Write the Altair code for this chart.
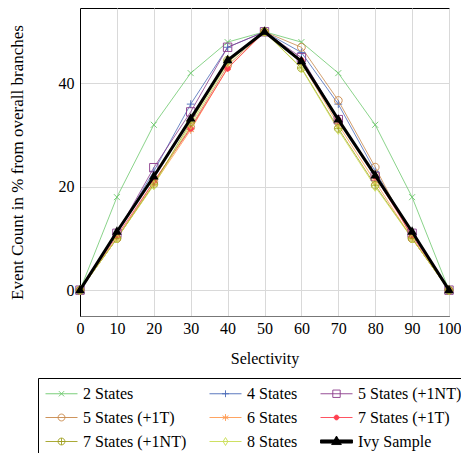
import altair as alt
import pandas as pd

selectivity = [0, 10, 20, 30, 40, 50, 60, 70, 80, 90, 100]
series_names = ["2 States", "4 States", "5 States (+1NT)", "5 States (+1T)", "6 States",
                "7 States (+1T)", "7 States (+1NT)", "8 States", "Ivy Sample"]
s2 = [0, 18, 32, 42, 48, 50, 48, 42, 32, 18, 0]
s4 = [0, 11, 23, 36, 47, 50, 46, 36, 23, 11, 0]
s5nt = [0, 11, 23.7, 34.5, 47, 50, 45, 33, 22, 11, 0]
s5t = [0, 10, 21, 31.5, 43.5, 50, 47, 36.7, 23.8, 10, 0]
s6 = [0, 10, 20.5, 31, 43, 50, 44, 32, 21, 10, 0]
s7t = [0, 10.5, 21, 31.3, 42.9, 50, 44.5, 33, 22, 10.5, 0]
s7nt = [0, 10, 20.5, 32.5, 44.5, 50, 43, 31.3, 20.3, 10, 0]
s8 = [0, 10, 20.3, 32, 44, 50, 42.9, 31, 20, 10, 0]
ivy = [0, 11.3, 22, 33.2, 44.5, 50, 44.3, 33, 22.2, 11.3, 0]
values = [s2, s4, s5nt, s5t, s6, s7t, s7nt, s8, ivy]

colors = ["#6cc86c", "#4a6ab8", "#8a3a8a", "#c8884a", "#ff9a50",
          "#ff4050", "#a0a020", "#c8dc50", "#000000"]
fills = ["transparent", "transparent", "transparent", "transparent", "transparent",
         "#ff4050", "transparent", "transparent", "#000000"]

rows = []
for name, vals in zip(series_names, values):
    for xv, yv in zip(selectivity, vals):
        rows.append({"series": name, "x": xv, "y": yv})
df = pd.DataFrame(rows)


def f(v):
    return f"{v:.3f}"


def circ(r, s, dx):
    R = r * s
    return f"M{f(dx+R)},0A{f(R)},{f(R)} 0 1,1 {f(dx-R)},0A{f(R)},{f(R)} 0 1,1 {f(dx+R)},0Z"


def marker(kind, s, dx):
    if kind == "x":
        return f"M{f(dx-s)},{f(-s)}L{f(dx+s)},{f(s)}M{f(dx-s)},{f(s)}L{f(dx+s)},{f(-s)}"
    if kind == "plus":
        a = 1.3 * s
        return f"M{f(dx-a)},0H{f(dx+a)}M{f(dx)},{f(-a)}V{f(a)}"
    if kind == "square":
        a = 1.4 * s
        return f"M{f(dx-a)},{f(-a)}H{f(dx+a)}V{f(a)}H{f(dx-a)}Z"
    if kind == "circle":
        return circ(1.3, s, dx)
    if kind == "asterisk":
        a = 1.3 * s
        bx, by = 0.866 * a, 0.5 * a
        return (f"M{f(dx)},{f(-a)}V{f(a)}M{f(dx-bx)},{f(-by)}L{f(dx+bx)},{f(by)}"
                f"M{f(dx-bx)},{f(by)}L{f(dx+bx)},{f(-by)}")
    if kind == "dot":
        return circ(0.9, s, dx)
    if kind == "oplus":
        a = 1.3 * s
        return circ(1.3, s, dx) + f"M{f(dx-a)},0H{f(dx+a)}M{f(dx)},{f(-a)}V{f(a)}"
    if kind == "diamond":
        h, w = 1.5 * s, 0.9 * s
        return f"M{f(dx)},{f(-h)}L{f(dx+w)},0L{f(dx)},{f(h)}L{f(dx-w)},0Z"
    if kind == "triangle":
        return f"M{f(dx)},{f(-1.8*s)}L{f(dx+1.6*s)},{f(1.0*s)}L{f(dx-1.6*s)},{f(1.0*s)}Z"


kinds = ["x", "plus", "square", "circle", "asterisk", "dot", "oplus", "diamond", "triangle"]
plot_shapes = [marker(k, 1.0, 0.0) for k in kinds]
legend_shapes = []
for k in kinds:
    if k == "triangle":
        legend_shapes.append("M-1,-0.2H3V0.2H-1Z" + marker(k, 0.38, 1.0))
    else:
        legend_shapes.append("M-1,0H3" + marker(k, 0.33, 1.0))

# legend fills column by column; reorder so rows read like the original
legend_order = [0, 3, 6, 1, 4, 7, 2, 5, 8]
leg_domain = [series_names[i] for i in legend_order]
leg_colors = [colors[i] for i in legend_order]
leg_fills = [fills[i] for i in legend_order]
leg_shapes = [legend_shapes[i] for i in legend_order]

FONT = "Liberation Serif"

xenc = alt.X("x:Q", scale=alt.Scale(domain=[0, 100], nice=False, zero=False),
             axis=alt.Axis(values=selectivity, title="Selectivity", grid=True,
                           ticks=False, tickSize=0, labelPadding=4, titlePadding=14,
                           labelOverlap=False, labelFlush=False,
                           domainColor="#777777"))
yenc = alt.Y("y:Q", scale=alt.Scale(domain=[-5, 54.6], nice=False, zero=False),
             axis=alt.Axis(values=[0, 20, 40], title="Event Count in % from overall branches",
                           grid=True, ticks=False, tickSize=0, labelPadding=6,
                           titlePadding=32, titleFontSize=17, domainColor="#000000"))

thin = df[df.series != "Ivy Sample"]
ivyd = df[df.series == "Ivy Sample"]

lines = alt.Chart(thin).mark_line(strokeWidth=0.8).encode(
    x=xenc, y=yenc,
    color=alt.Color("series:N", scale=alt.Scale(domain=series_names, range=colors), legend=None),
    detail="series:N",
)
points = alt.Chart(thin).mark_point(size=36, strokeWidth=0.9, opacity=1).encode(
    x=xenc, y=yenc,
    color=alt.Color("series:N", scale=alt.Scale(domain=series_names, range=colors), legend=None),
    fill=alt.Fill("series:N", scale=alt.Scale(domain=series_names, range=fills), legend=None),
    shape=alt.Shape("series:N", scale=alt.Scale(domain=series_names, range=plot_shapes), legend=None),
)
ivy_line = alt.Chart(ivyd).mark_line(strokeWidth=3, color="#000000").encode(x=xenc, y=yenc)
ivy_pts = alt.Chart(ivyd).mark_point(size=36, filled=True, opacity=1, color="#000000",
                                     shape=plot_shapes[-1]).encode(x=xenc, y=yenc)

leg = alt.Legend(title=None, orient="none", legendX=-42, legendY=370, columns=3,
                 columnPadding=20, rowPadding=7, padding=7, symbolSize=256,
                 labelOffset=21, labelFont=FONT, labelFontSize=16, labelColor="#000000",
                 strokeColor="#000000", fillColor="#ffffff", gridAlign="each",
                 symbolStrokeWidth=0.9, symbolOpacity=1)
legend_layer = alt.Chart(df).mark_point(strokeWidth=0.9, opacity=1).encode(
    x=xenc, y=yenc,
    color=alt.Color("series:N", scale=alt.Scale(domain=leg_domain, range=leg_colors), legend=leg),
    fill=alt.Fill("series:N", scale=alt.Scale(domain=leg_domain, range=leg_fills), legend=leg),
    shape=alt.Shape("series:N", scale=alt.Scale(domain=leg_domain, range=leg_shapes), legend=leg),
).transform_filter(alt.datum.x < -1000)

chart = alt.layer(lines, points, ivy_line, ivy_pts, legend_layer).resolve_scale(
    color="independent", fill="independent", shape="independent"
).properties(
    width=369, height=308,
    autosize=alt.AutoSizeParams(type="none"),
    padding={"left": 72, "top": 0, "right": 12, "bottom": 137}
).configure_view(
    stroke="#000000", strokeWidth=1
).configure_axis(
    labelFont=FONT, titleFont=FONT, labelFontSize=16, titleFontSize=16,
    titleFontWeight="normal", labelColor="#000000", titleColor="#000000",
    gridColor="#d9d9d9", gridWidth=1
).configure_axisX(
    labelOverlap=False
)

chart.save("out.html", embed_options={"renderer": "svg", "actions": False})
